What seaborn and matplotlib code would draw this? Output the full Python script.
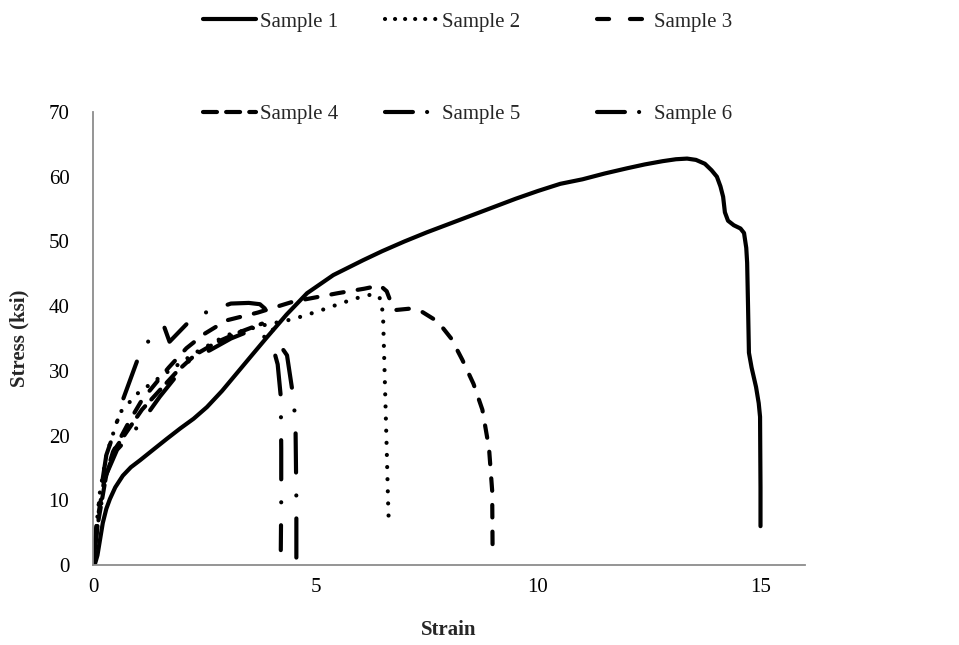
import numpy as np
import pandas as pd
import matplotlib
matplotlib.use("Agg")
import matplotlib.pyplot as plt
from matplotlib.lines import Line2D
import seaborn as sns

# Stress-strain curves (strain, stress in ksi)
s1_strain = [0, 0.05, 0.1, 0.16, 0.22, 0.3, 0.38, 0.5, 0.67, 0.85, 1.06, 1.35, 1.66, 1.96,
             2.26, 2.56, 2.9, 3.24, 3.58, 3.91, 4.35, 4.81, 5.4, 6.07, 6.5, 7.0, 7.5, 8.0,
             8.5, 9.0, 9.5, 10.0, 10.5, 11.0, 11.5, 12.0, 12.4, 12.8, 13.1, 13.35, 13.55,
             13.75, 13.9, 14.02, 14.1, 14.16, 14.2, 14.27, 14.4, 14.55, 14.63, 14.68, 14.7,
             14.72, 14.74, 14.8, 14.9, 14.96, 14.99, 15.0, 15.0]
s1_stress = [0, 0.3, 1.5, 4.0, 6.5, 8.7, 10.2, 12.0, 13.8, 15.1, 16.2, 17.8, 19.5, 21.1,
             22.6, 24.4, 26.9, 29.7, 32.5, 35.2, 38.7, 42.0, 44.8, 47.1, 48.5, 50.0, 51.4,
             52.7, 54.0, 55.3, 56.6, 57.8, 58.9, 59.6, 60.5, 61.3, 61.9, 62.4, 62.7, 62.8,
             62.6, 62.0, 61.0, 60.0, 58.5, 56.9, 54.5, 53.2, 52.5, 52.0, 51.3, 49.0, 46.7,
             40.0, 32.8, 30.5, 27.5, 25.0, 22.9, 12.0, 6.0]

s2_strain = [0, 0.05, 0.15, 0.3, 0.6, 1.0, 1.5, 2.3, 3.0, 3.8, 4.5, 5.1, 5.6, 6.05, 6.34,
             6.48, 6.52, 6.56, 6.6, 6.63, 6.65]
s2_stress = [0, 4.0, 11.0, 17.0, 23.5, 26.5, 29.0, 32.8, 35.5, 37.0, 38.0, 39.3, 40.5, 41.5,
             41.9, 41.0, 38.0, 28.0, 18.0, 10.0, 5.9]

s3_strain = [0, 0.1, 0.25, 0.45, 0.8, 1.1, 1.7, 2.1, 2.5, 3.0, 3.7, 4.5, 5.5, 6.1, 6.45,
             6.6, 6.7, 6.8, 7.1, 7.4, 7.75, 8.05, 8.3, 8.55, 8.75, 8.9, 8.97, 8.98]
s3_stress = [0, 7.0, 13.0, 17.5, 22.0, 25.5, 30.5, 33.5, 35.7, 37.8, 39.0, 40.7, 42.0, 42.7,
             43.2, 42.3, 40.5, 39.4, 39.6, 39.1, 37.6, 35.0, 31.7, 28.0, 24.0, 18.0, 11.5, 2.0]

s4_strain = [0, 0.1, 0.3, 0.5, 0.8, 1.1, 1.5, 1.9, 2.3, 2.8, 3.3, 3.8]
s4_stress = [0, 6.0, 14.0, 18.0, 21.0, 24.0, 27.0, 30.0, 32.5, 34.5, 36.0, 37.3]

s5_strain = [0, 0.1, 0.3, 0.54, 0.9, 1.21, 1.5, 1.85, 2.18, 2.63, 3.1, 3.46, 3.75, 3.91,
             4.02, 4.15, 4.22, 4.23, 4.23, 4.22]
s5_stress = [0, 6.0, 14.0, 17.8, 20.5, 23.2, 26.0, 29.0, 31.7, 33.2, 35.0, 36.0, 36.0, 34.8,
             34.3, 31.0, 26.0, 18.0, 10.0, 2.3]

s6_strain = [0, 0.1, 0.3, 0.5, 0.67, 1.0, 1.28, 1.6, 1.72, 2.1, 2.58, 3.1, 3.5, 3.75, 3.9,
             4.0, 4.2, 4.36, 4.5, 4.55, 4.57, 4.57]
s6_stress = [0, 8.0, 17.0, 21.0, 25.5, 31.7, 35.0, 36.8, 34.5, 37.2, 39.2, 40.4, 40.5, 40.3,
             39.4, 37.0, 34.0, 32.4, 26.0, 22.0, 10.0, 0.0]

labels = ["Sample 1", "Sample 2", "Sample 3", "Sample 4", "Sample 5", "Sample 6"]
strains = [s1_strain, s2_strain, s3_strain, s4_strain, s5_strain, s6_strain]
stresses = [s1_stress, s2_stress, s3_stress, s4_stress, s5_stress, s6_stress]

# dash patterns on the curves (in units of line width)
styles = [
    None,                       # solid
    (0.01, 2.9),                # round dots
    (3.0, 3.4),                 # dash
    (3.2, 2.2),                 # short dash
    (9.4, 5.5, 0.01, 5.5),      # long dash dot
    (9.4, 5.5, 0.01, 5.5),      # long dash dot
]
# shorter patterns for the legend keys
key_styles = [None, (0.01, 2.4), (2.9, 5.0), (3.35, 2.2), (6.7, 3.4, 0.01, 10),
              (6.7, 3.4, 0.01, 10)]

frames = []
for lab, xs, ys in zip(labels, strains, stresses):
    frames.append(pd.DataFrame({"Strain": xs, "Stress": ys, "Sample": lab}))
df = pd.concat(frames, ignore_index=True)

sns.set_theme(style="white")
plt.rcParams["font.family"] = ["Liberation Serif", "DejaVu Serif"]

fig = plt.figure(figsize=(9.59, 6.45), dpi=100)
ax = fig.add_axes([93 / 959, 80 / 645, 712 / 959, 453 / 645])

lw = 3.0
line_kw = dict(color="black", linewidth=lw, solid_capstyle="round",
               dash_capstyle="round", solid_joinstyle="round", dash_joinstyle="round")
for lab, dash in zip(labels, styles):
    sub = df[df["Sample"] == lab]
    kw = dict(line_kw)
    if dash is not None:
        kw["dashes"] = dash
    sns.lineplot(data=sub, x="Strain", y="Stress", sort=False, estimator=None,
                 ax=ax, legend=False, **kw)

ax.set_xlim(0, 16)
ax.set_ylim(0, 70)
ax.set_xticks([0, 5, 10, 15])
ax.set_yticks(range(0, 71, 10))
ax.tick_params(axis="both", length=0, labelsize=15, colors="black")
ax.tick_params(axis="y", pad=17)
ax.tick_params(axis="x", pad=9)
for side in ["top", "right"]:
    ax.spines[side].set_visible(False)
for side in ["left", "bottom"]:
    ax.spines[side].set_color("#8c8c8c")
    ax.spines[side].set_linewidth(1.3)

ax.set_xlabel("Strain", fontsize=15, fontweight="bold", labelpad=17)
ax.set_ylabel("Stress (ksi)", fontsize=15, fontweight="bold", labelpad=14)

# legend keys, laid out as three columns of two rows
keys = []
for dash in key_styles:
    kw = dict(line_kw)
    if dash is not None:
        kw["dashes"] = dash
    keys.append(Line2D([], [], **kw))

col_x = [203, 385, 597]
for c in range(3):
    idx = [c, c + 3]
    fig.legend([keys[i] for i in idx], [labels[i] for i in idx], ncol=1,
               frameon=False, fontsize=15, loc="upper left",
               bbox_to_anchor=(col_x[c] / 959, 1 - 12 / 645),
               borderpad=0, borderaxespad=0, handlelength=2.55,
               handletextpad=0.2, labelspacing=3.5)

fig.savefig("out.png", dpi=100, facecolor="white")
